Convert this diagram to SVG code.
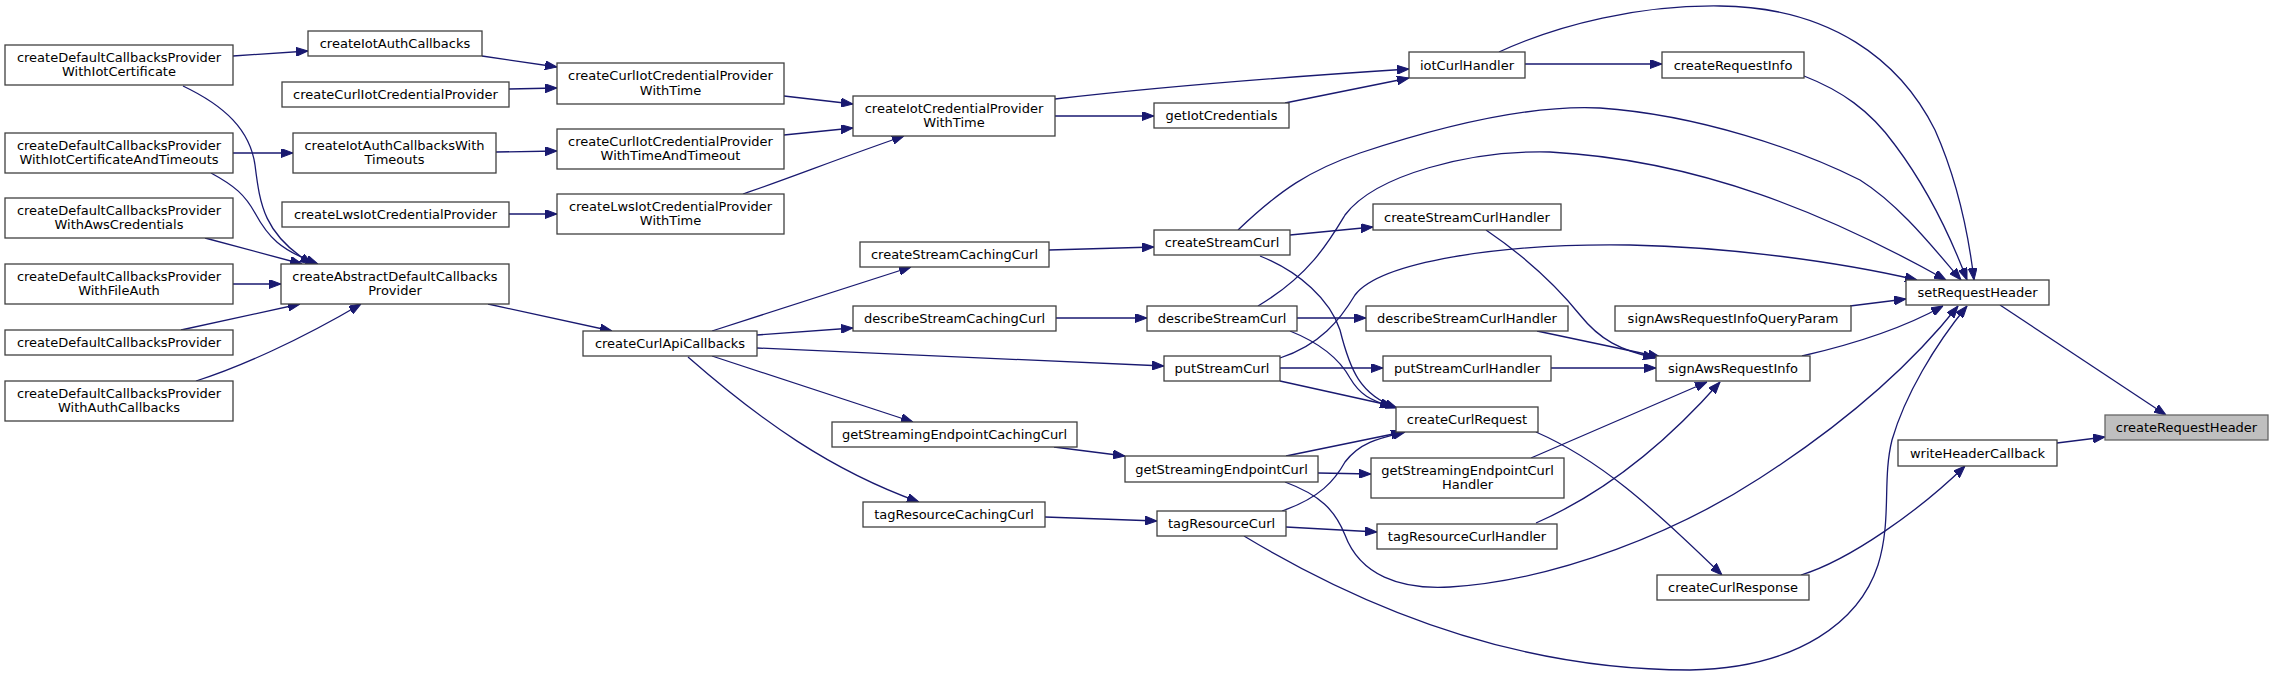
<svg xmlns="http://www.w3.org/2000/svg" width="2273" height="677" viewBox="0 0 2273 677">
<style>
.n rect{fill:#ffffff;stroke:#404040;stroke-width:1.3}
.n text{font-family:"DejaVu Sans","Liberation Sans",sans-serif;font-size:13px;fill:#000000;text-anchor:middle}
.sel rect{fill:#bfbfbf;stroke:#666666}
#edges path{fill:none;stroke:#191970;stroke-width:1.3;marker-end:url(#ah)}
</style>
<defs>
<marker id="ah" viewBox="0 0 12 9" refX="12" refY="4.5" markerWidth="12" markerHeight="9" markerUnits="userSpaceOnUse" orient="auto">
<path d="M0,0 L12,4.5 L0,9 z" fill="#191970" stroke="#191970" stroke-width="1"/>
</marker>
</defs>
<rect x="0" y="0" width="2273" height="677" fill="#ffffff"/>
<g id="edges">
<path d="M233,56 L308,51"/>
<path d="M183,86 C225,106 250,130 255,165 C260,205 264,235 312,264"/>
<path d="M233,153 L293,153"/>
<path d="M211,173 C235,186 245,195 255,213 C268,237 280,250 318,264"/>
<path d="M205,238 L302,264"/>
<path d="M233,284 L281,284"/>
<path d="M181,330 L300,304"/>
<path d="M196,381 C240,367 300,340 361,304"/>
<path d="M482,56 L557,67"/>
<path d="M509,89 L557,88"/>
<path d="M496,152 L557,151"/>
<path d="M509,214 L557,214"/>
<path d="M488,304 L612,331"/>
<path d="M784,96 L853,104"/>
<path d="M784,135 L853,128"/>
<path d="M743,194 C790,178 840,158 904,136"/>
<path d="M1055,99 C1150,88 1300,76 1409,69"/>
<path d="M1055,116 L1154,116"/>
<path d="M1285,103 L1409,78"/>
<path d="M712,331 L911,267"/>
<path d="M757,335 L853,328"/>
<path d="M757,348 L1164,366"/>
<path d="M712,356 L913,422"/>
<path d="M688,357 C760,420 830,470 919,502"/>
<path d="M1049,250 L1154,247"/>
<path d="M1056,318 L1147,318"/>
<path d="M1054,447 L1125,456"/>
<path d="M1045,517 L1157,521"/>
<path d="M1525,64 L1662,64"/>
<path d="M1499,52 C1560,24 1640,5 1720,6 C1830,7 1900,60 1935,130 C1955,175 1968,230 1974,280"/>
<path d="M1804,76 C1840,90 1870,110 1895,145 C1925,185 1950,235 1967,280"/>
<path d="M1290,235 L1373,227"/>
<path d="M1238,230 C1280,190 1310,170 1360,153 C1460,120 1540,105 1600,108 C1700,115 1800,150 1860,180 C1900,205 1935,250 1961,280"/>
<path d="M1260,256 C1300,272 1330,300 1340,330 C1350,370 1360,395 1397,408"/>
<path d="M1297,318 L1366,318"/>
<path d="M1258,306 C1310,275 1330,240 1345,215 C1375,175 1470,150 1550,152 C1700,160 1830,215 1946,280"/>
<path d="M1290,331 C1320,343 1340,360 1350,378 C1360,395 1370,400 1392,407"/>
<path d="M1280,368 L1383,368"/>
<path d="M1280,358 C1320,345 1340,320 1355,295 C1380,262 1500,243 1630,245 C1730,247 1840,262 1917,280"/>
<path d="M1280,381 L1393,406"/>
<path d="M1318,473 L1371,474"/>
<path d="M1286,456 L1403,432"/>
<path d="M1285,482 C1320,495 1335,510 1345,535 C1360,575 1400,590 1450,587 C1560,580 1680,530 1760,478 C1850,420 1915,360 1958,306"/>
<path d="M1286,527 L1377,532"/>
<path d="M1282,511 C1320,498 1335,480 1345,462 C1360,442 1380,438 1405,432"/>
<path d="M1244,536 C1400,630 1550,670 1690,670 C1800,668 1860,620 1878,565 C1892,520 1882,480 1892,440 C1905,395 1935,345 1967,306"/>
<path d="M1486,230 C1530,260 1560,290 1580,315 C1600,340 1620,350 1655,358"/>
<path d="M1537,331 L1660,357"/>
<path d="M1551,368 L1656,368"/>
<path d="M1531,458 L1707,382"/>
<path d="M1536,523 C1600,495 1660,450 1720,382"/>
<path d="M1536,432 C1600,460 1650,505 1722,575"/>
<path d="M1850,306 L1906,299"/>
<path d="M1802,356 C1850,345 1900,330 1943,306"/>
<path d="M2000,305 L2166,415"/>
<path d="M2057,443 L2105,437"/>
<path d="M1801,575 C1850,560 1920,510 1965,466"/>
</g>
<g id="n1" class="n"><rect x="5" y="45" width="228" height="40"/><text x="119" y="61.5">createDefaultCallbacksProvider</text><text x="119" y="76">WithIotCertificate</text></g>
<g id="n2" class="n"><rect x="308" y="31" width="174" height="25"/><text x="395" y="48">createIotAuthCallbacks</text></g>
<g id="n3" class="n"><rect x="282" y="82" width="227" height="25"/><text x="395.5" y="99">createCurlIotCredentialProvider</text></g>
<g id="n4" class="n"><rect x="5" y="133" width="228" height="40"/><text x="119" y="149.5">createDefaultCallbacksProvider</text><text x="119" y="164">WithIotCertificateAndTimeouts</text></g>
<g id="n5" class="n"><rect x="293" y="133" width="203" height="40"/><text x="394.5" y="149.5">createIotAuthCallbacksWith</text><text x="394.5" y="164">Timeouts</text></g>
<g id="n6" class="n"><rect x="5" y="198" width="228" height="40"/><text x="119" y="214.5">createDefaultCallbacksProvider</text><text x="119" y="229">WithAwsCredentials</text></g>
<g id="n7" class="n"><rect x="282" y="202" width="227" height="25"/><text x="395.5" y="219">createLwsIotCredentialProvider</text></g>
<g id="n8" class="n"><rect x="5" y="264" width="228" height="40"/><text x="119" y="280.5">createDefaultCallbacksProvider</text><text x="119" y="295">WithFileAuth</text></g>
<g id="n9" class="n"><rect x="281" y="264" width="228" height="40"/><text x="395" y="280.5">createAbstractDefaultCallbacks</text><text x="395" y="295">Provider</text></g>
<g id="n10" class="n"><rect x="5" y="330" width="228" height="25"/><text x="119" y="347">createDefaultCallbacksProvider</text></g>
<g id="n11" class="n"><rect x="5" y="381" width="228" height="40"/><text x="119" y="397.5">createDefaultCallbacksProvider</text><text x="119" y="412">WithAuthCallbacks</text></g>
<g id="n12" class="n"><rect x="557" y="63" width="227" height="41"/><text x="670.5" y="80">createCurlIotCredentialProvider</text><text x="670.5" y="94.5">WithTime</text></g>
<g id="n13" class="n"><rect x="557" y="129" width="227" height="40"/><text x="670.5" y="145.5">createCurlIotCredentialProvider</text><text x="670.5" y="160">WithTimeAndTimeout</text></g>
<g id="n14" class="n"><rect x="557" y="194" width="227" height="40"/><text x="670.5" y="210.5">createLwsIotCredentialProvider</text><text x="670.5" y="225">WithTime</text></g>
<g id="n15" class="n"><rect x="853" y="96" width="202" height="40"/><text x="954" y="112.5">createIotCredentialProvider</text><text x="954" y="127">WithTime</text></g>
<g id="n16" class="n"><rect x="860" y="242" width="189" height="25"/><text x="954.5" y="259">createStreamCachingCurl</text></g>
<g id="n17" class="n"><rect x="853" y="306" width="203" height="25"/><text x="954.5" y="323">describeStreamCachingCurl</text></g>
<g id="n18" class="n"><rect x="583" y="331" width="174" height="25"/><text x="670" y="348">createCurlApiCallbacks</text></g>
<g id="n19" class="n"><rect x="832" y="422" width="245" height="25"/><text x="954.5" y="439">getStreamingEndpointCachingCurl</text></g>
<g id="n20" class="n"><rect x="863" y="502" width="182" height="25"/><text x="954" y="519">tagResourceCachingCurl</text></g>
<g id="n21" class="n"><rect x="1409" y="52" width="116" height="26"/><text x="1467" y="69.5">iotCurlHandler</text></g>
<g id="n22" class="n"><rect x="1154" y="103" width="135" height="25"/><text x="1221.5" y="120">getIotCredentials</text></g>
<g id="n23" class="n"><rect x="1154" y="230" width="136" height="25"/><text x="1222" y="247">createStreamCurl</text></g>
<g id="n24" class="n"><rect x="1373" y="204" width="188" height="26"/><text x="1467" y="221.5">createStreamCurlHandler</text></g>
<g id="n25" class="n"><rect x="1147" y="306" width="150" height="25"/><text x="1222" y="323">describeStreamCurl</text></g>
<g id="n26" class="n"><rect x="1366" y="306" width="202" height="25"/><text x="1467" y="323">describeStreamCurlHandler</text></g>
<g id="n27" class="n"><rect x="1615" y="306" width="236" height="25"/><text x="1733" y="323">signAwsRequestInfoQueryParam</text></g>
<g id="n28" class="n"><rect x="1662" y="52" width="142" height="26"/><text x="1733" y="69.5">createRequestInfo</text></g>
<g id="n29" class="n"><rect x="1164" y="356" width="116" height="25"/><text x="1222" y="373">putStreamCurl</text></g>
<g id="n30" class="n"><rect x="1383" y="356" width="168" height="25"/><text x="1467" y="373">putStreamCurlHandler</text></g>
<g id="n31" class="n"><rect x="1656" y="356" width="154" height="25"/><text x="1733" y="373">signAwsRequestInfo</text></g>
<g id="n32" class="n"><rect x="1396" y="407" width="142" height="25"/><text x="1467" y="424">createCurlRequest</text></g>
<g id="n33" class="n"><rect x="1125" y="456" width="193" height="26"/><text x="1221.5" y="473.5">getStreamingEndpointCurl</text></g>
<g id="n34" class="n"><rect x="1371" y="458" width="193" height="40"/><text x="1467.5" y="474.5">getStreamingEndpointCurl</text><text x="1467.5" y="489">Handler</text></g>
<g id="n35" class="n"><rect x="1157" y="511" width="129" height="25"/><text x="1221.5" y="528">tagResourceCurl</text></g>
<g id="n36" class="n"><rect x="1377" y="524" width="180" height="25"/><text x="1467" y="541">tagResourceCurlHandler</text></g>
<g id="n37" class="n"><rect x="1657" y="575" width="152" height="25"/><text x="1733" y="592">createCurlResponse</text></g>
<g id="n38" class="n"><rect x="1906" y="280" width="143" height="25"/><text x="1977.5" y="297">setRequestHeader</text></g>
<g id="n39" class="n sel"><rect x="2105" y="415" width="163" height="25"/><text x="2186.5" y="432">createRequestHeader</text></g>
<g id="n40" class="n"><rect x="1898" y="440" width="159" height="26"/><text x="1977.5" y="457.5">writeHeaderCallback</text></g>
</svg>
